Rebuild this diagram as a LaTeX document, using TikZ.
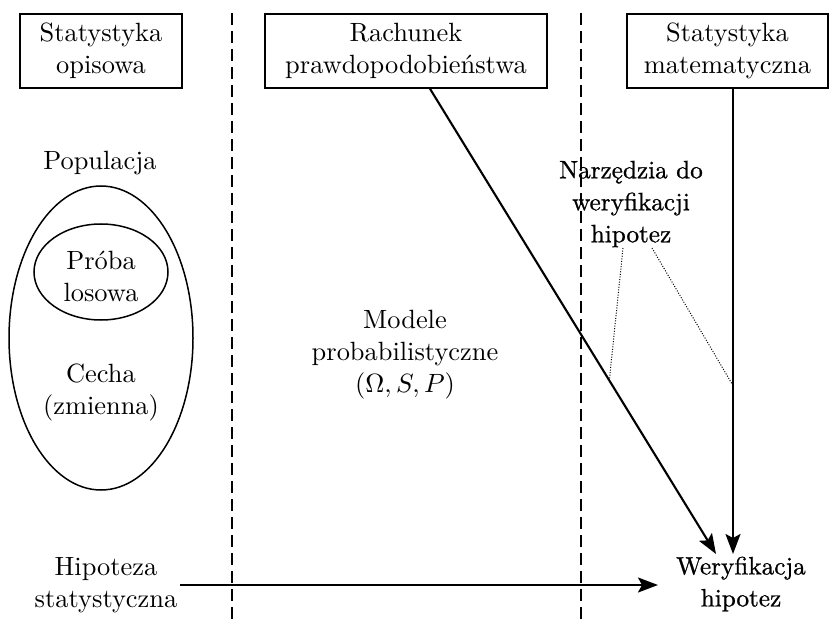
\documentclass[tikz,border=0pt]{standalone}
\usepackage{fontspec}
\usepackage{graphicx}
\setmainfont{lmroman10-regular.otf}
\newfontfamily\heavyrm{lmroman10-regular.otf}[FakeBold=0.8]
\usetikzlibrary{arrows.meta,calc,shapes.geometric}

\tikzset{
  txt/.style={align=center, inner sep=2pt, font=\fontsize{26.4}{32}\selectfont},
  heavytxt/.style={align=center, inner sep=2pt, font=\heavyrm\fontsize{25.2}{32}\selectfont},
  topbox/.style={txt, draw, line width=1.6pt, minimum height=74pt},
  divider/.style={line width=1.7pt, dash pattern=on 12pt off 6pt},
  arr/.style={line width=2.1pt, -{Stealth[length=20pt, width=15pt, inset=4pt]}},
  pointer/.style={line width=1pt, dash pattern=on 1pt off 1.6pt},
  oval/.style={line width=1.5pt}
}

\begin{document}
\begin{tikzpicture}[x=1pt, y=-1pt]
  \useasboundingbox (0,0) rectangle (832,620);

  % column dividers
  \coordinate (d1t) at (232,13);  \coordinate (d1b) at (232,620);
  \coordinate (d2t) at (581,13);  \coordinate (d2b) at (581,620);
  \draw[divider] (d1t) -- (d1b);
  \draw[divider] (d2t) -- (d2b);

  % headings
  \node[topbox, minimum width=162pt] (b1) at (101,51) {Statystyka\\opisowa};
  \node[topbox, minimum width=282pt] (b2) at (406,51) {Rachunek\\prawdopodobieństwa};
  \node[topbox, minimum width=201pt] (b3) at (727.5,51) {Statystyka\\matematyczna};

  % population and sample
  \node[txt] (pop) at (100,163) {Populacja};
  \node[draw, oval, ellipse, minimum width=184pt, minimum height=304pt] (popov) at (101,338) {};
  \node[draw, oval, ellipse, minimum width=134pt, minimum height=96pt] (proba) at (101,272) {};
  \node[txt] (probatxt) at (101,276) {Próba\\losowa};
  \node[txt] (cecha) at (101,392) {Cecha\\(zmienna)};

  % models
  \node[txt] (mod) at (405,355) {Modele\\probabilistyczne\\\scalebox{2.64}{\fontsize{10}{12}\selectfont$(\Omega,S,P)$}};

  % tools
  \node[heavytxt] (narz) at (631,204) {Narzędzia do\\weryfikacji\\hipotez};

  % hypothesis and verification
  \node[txt] (hip) at (106,585) {Hipoteza\\statystyczna};
  \node[heavytxt] (wer) at (741,584) {Weryfikacja\\hipotez};

  % connectors
  \coordinate (aS) at ($(b2.south)+(24,0)$);
  \coordinate (aT) at (716,554);
  \coordinate (vS) at (b3.south -| 733,0);
  \coordinate (vT) at (733,554);
  \draw[arr] (aS) -- (aT);
  \draw[arr] (vS) -- (vT);
  \coordinate (hT) at (658,585);
  \draw[arr, shorten <=1pt] (hip.east |- hT) -- (hT);

  % pointers from the tools label to the arrows
  \coordinate (p1s) at (623,248);
  \coordinate (p2s) at (652,248);
  \path (aS) -- (aT) coordinate[pos=0.627] (p1e);
  \path (vS) -- (vT) coordinate[pos=0.638] (p2e);
  \draw[pointer] (p1s) -- (p1e);
  \draw[pointer] (p2s) -- (p2e);
\end{tikzpicture}
\end{document}
